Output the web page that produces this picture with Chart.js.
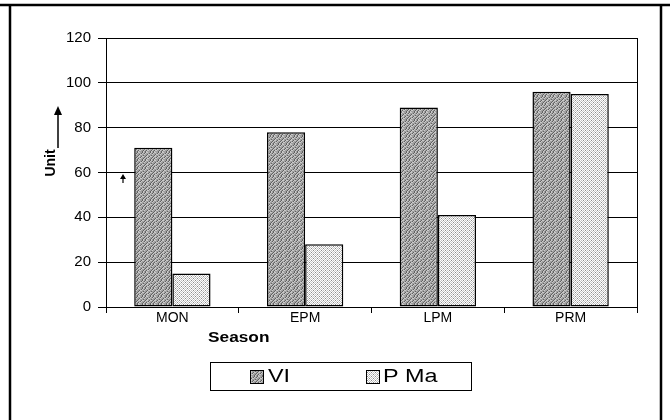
<!DOCTYPE html>
<html>
<head>
<meta charset="utf-8">
<script src="https://cdn.jsdelivr.net/npm/chart.js@4/dist/chart.umd.min.js"></script>
<style>
  html, body { margin: 0; padding: 0; background: #fff; }
  #wrap { width: 670px; height: 420px; position: relative; }
</style>
</head>
<body>
<div id="wrap"><canvas id="c" width="670" height="420"></canvas></div>
<script>
// Seasonal values per series
const seasons = ['MON', 'EPM', 'LPM', 'PRM'];
const seriesNames = ['VI', 'P Ma'];
const viValues = [71, 78, 89, 96];
const pmaValues = [15, 28, 41, 95];
const yTicks = [0, 20, 40, 60, 80, 100, 120];

const FONT = '"Liberation Sans", Arial, Helvetica, sans-serif';

// Build a repeating fill from a small pixel map
function makePattern(rows, palette) {
  const h = rows.length, w = rows[0].length;
  const t = document.createElement('canvas');
  t.width = w; t.height = h;
  const g = t.getContext('2d');
  for (let y = 0; y < h; y++) {
    for (let x = 0; x < w; x++) {
      g.fillStyle = palette[rows[y][x]];
      g.fillRect(x, y, 1, 1);
    }
  }
  return document.getElementById('c').getContext('2d').createPattern(t, 'repeat');
}

const viFill = makePattern([
  'mdllmmdl',
  'dlmmmdlm',
  'lmmdllmm',
  'mmdlmmmd',
  'mdllmdll',
  'dlmmdlmm',
  'lmdllmmd',
  'mdlmmmdl'
], { d: '#626262', m: '#a0a0a0', l: '#cacaca' });

const pmaFill = makePattern([
  'wgwd',
  'gwgw',
  'wdwg',
  'gwgw'
], { w: '#ffffff', g: '#c4c4c4', d: '#8c8c8c' });

const fills = [viFill, pmaFill];

// Text drawn with a horizontal stretch
function wideText(ctx, text, x, y, sx) {
  ctx.save();
  ctx.translate(x, y);
  ctx.scale(sx, 1);
  ctx.fillText(text, 0, 0);
  ctx.restore();
}

// Frame, plot border, axis captions, arrows and legend box
const decorations = {
  id: 'decorations',
  afterDraw(chart) {
    const ctx = chart.ctx;
    const a = chart.chartArea;
    const xs = chart.scales.x;
    ctx.save();

    // outer frame
    ctx.strokeStyle = '#000';
    ctx.lineWidth = 2.5;
    ctx.beginPath();
    ctx.moveTo(0, 5); ctx.lineTo(670, 5);
    ctx.moveTo(10, 5); ctx.lineTo(10, 420);
    ctx.moveTo(661, 5); ctx.lineTo(661, 420);
    ctx.stroke();

    // plot border
    ctx.lineWidth = 1;
    ctx.strokeRect(a.left + 0.5, a.top + 0.5, a.right - a.left, a.bottom - a.top);

    // x caption
    ctx.fillStyle = '#000';
    ctx.font = 'bold 15px ' + FONT;
    ctx.textAlign = 'center';
    ctx.textBaseline = 'middle';
    wideText(ctx, 'Season', xs.getPixelForValue(0.5), 338, 1.15);

    // y caption with arrow
    ctx.save();
    ctx.translate(51, 163);
    ctx.rotate(-Math.PI / 2);
    ctx.font = 'bold 14px ' + FONT;
    ctx.fillText('Unit', 0, 0);
    ctx.restore();
    ctx.lineWidth = 1.5;
    ctx.beginPath();
    ctx.moveTo(58, 148); ctx.lineTo(58, 112);
    ctx.stroke();
    ctx.beginPath();
    ctx.moveTo(58, 106); ctx.lineTo(54, 115); ctx.lineTo(62, 115); ctx.closePath();
    ctx.fill();

    // small arrow by the first group
    const ax = a.left + 17;
    ctx.lineWidth = 1.2;
    ctx.beginPath();
    ctx.moveTo(ax, 183); ctx.lineTo(ax, 178);
    ctx.stroke();
    ctx.beginPath();
    ctx.moveTo(ax, 174); ctx.lineTo(ax - 3, 179); ctx.lineTo(ax + 3, 179); ctx.closePath();
    ctx.fill();

    // legend
    ctx.lineWidth = 1;
    ctx.strokeRect(210.5, 362.5, 261, 28);
    ctx.font = '18px ' + FONT;
    ctx.textAlign = 'left';
    const items = [[250, 268], [366, 383]];
    chart.data.datasets.forEach((ds, i) => {
      const [sx, tx] = items[i];
      ctx.fillStyle = ds.backgroundColor;
      ctx.fillRect(sx, 370, 13, 13);
      ctx.strokeStyle = '#000';
      ctx.strokeRect(sx + 0.5, 370.5, 13, 13);
      ctx.fillStyle = '#000';
      wideText(ctx, ds.label, tx, 377, 1.3);
    });
    ctx.restore();
  }
};

new Chart(document.getElementById('c'), {
  type: 'bar',
  data: {
    labels: seasons,
    datasets: [
      { label: seriesNames[0], data: viValues },
      { label: seriesNames[1], data: pmaValues }
    ].map((d, i) => Object.assign(d, {
      backgroundColor: fills[i],
      borderColor: '#000',
      borderWidth: 1.5,
      borderSkipped: false,
      categoryPercentage: 0.575,
      barPercentage: 1.0
    }))
  },
  options: {
    responsive: false,
    animation: false,
    events: [],
    layout: { padding: { left: 0, right: 33, top: 38, bottom: 0 } },
    plugins: {
      legend: { display: false },
      tooltip: { enabled: false },
      title: { display: false }
    },
    scales: {
      x: {
        offset: true,
        grid: { offset: true, drawOnChartArea: false, color: '#000', tickLength: 6, lineWidth: 1 },
        border: { color: '#000', width: 1 },
        ticks: { color: '#000', font: { family: FONT, size: 14 }, padding: -3, maxRotation: 0 },
        afterFit(s) { s.height = 113; }
      },
      y: {
        min: 0,
        max: 120,
        afterBuildTicks(s) { s.ticks = yTicks.map(v => ({ value: v })); },
        grid: { color: '#000', tickLength: 8, lineWidth: 1 },
        border: { color: '#000', width: 1 },
        ticks: { color: '#000', font: { family: FONT, size: 15 }, padding: 7 },
        afterFit(s) { s.width = 106; }
      }
    }
  },
  plugins: [decorations]
});
</script>
</body>
</html>
